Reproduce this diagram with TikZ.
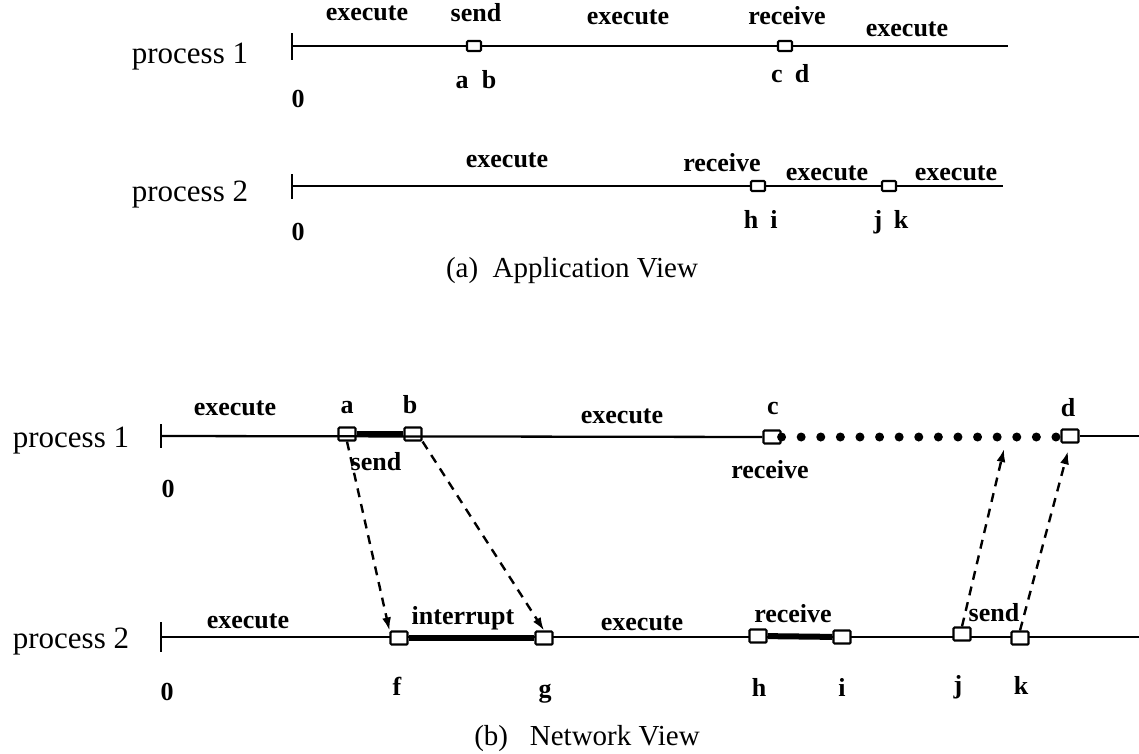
\documentclass[tikz,border=0pt]{standalone}
\usepackage{fontspec}
\setmainfont{Liberation Serif}
\usetikzlibrary{arrows.meta}
\begin{document}
\begin{tikzpicture}[x=1pt,y=-1pt,
    proc/.style={line width=2.3pt},
    busy/.style={line width=6pt},
    evt/.style={draw,fill=white,line width=2.1pt,minimum width=14pt,minimum height=10pt,inner sep=0pt,rounded corners=1pt},
    bigevt/.style={evt,minimum width=17pt,minimum height=13pt},
    lbl/.style={font=\fontsize{26}{28}\selectfont\bfseries,anchor=base,inner sep=0pt},
    plbl/.style={font=\fontsize{31}{34}\selectfont,anchor=base,inner sep=0pt},
    caplbl/.style={font=\fontsize{29}{32}\selectfont,anchor=base,inner sep=0pt},
    msg/.style={dash pattern=on 9pt off 7pt,line width=2.4pt,-{Latex[length=13pt,width=9pt]}},
    wait/.style={line width=9pt,line cap=round,dash pattern=on 0pt off 19.6pt}]
    \useasboundingbox (0,0) rectangle (1139,753);
    % (a) application view
    \node[plbl] (pa1) at (190,63) {process 1};
    \coordinate (a1s) at (292,46); \coordinate (a1e) at (1008,46);
    \draw[proc] (a1s) -- (a1e);
    \draw[proc] (292,33) -- (292,60);
    \node[evt] (ab) at (474,46) {};
    \node[evt] (cd) at (785,46) {};
    \node[lbl] (ex11) at (367,20) {execute};
    \node[lbl] (snd1) at (476,21) {send};
    \node[lbl] (ex12) at (628,24) {execute};
    \node[lbl] (rcv1) at (787,24) {receive};
    \node[lbl] (ex13) at (907,36) {execute};
    \node[lbl] (la) at (462,88) {a};
    \node[lbl] (lb) at (489,88) {b};
    \node[lbl] (lc) at (777,82) {c};
    \node[lbl] (ld) at (802,82) {d};
    \node[lbl] (za1) at (298,107) {0};

    \node[plbl] (pa2) at (190,201) {process 2};
    \coordinate (a2s) at (292,186); \coordinate (a2e) at (1003,186);
    \draw[proc] (a2s) -- (a2e);
    \draw[proc] (292,174) -- (292,199);
    \node[evt] (hi) at (758,186) {};
    \node[evt] (jk) at (889,186) {};
    \node[lbl] (ex21) at (507,167) {execute};
    \node[lbl] (rcv2) at (722,171) {receive};
    \node[lbl] (ex22) at (827,180) {execute};
    \node[lbl] (ex23) at (956,180) {execute};
    \node[lbl] (lh) at (751,228) {h};
    \node[lbl] (li) at (774,228) {i};
    \node[lbl] (lj) at (878,228) {j};
    \node[lbl] (lk) at (901,228) {k};
    \node[lbl] (za2) at (298,240) {0};
    \node[caplbl] (capa) at (572,277) {(a)\ \ Application View};

    % (b) network view
    \node[plbl] (pb1) at (71,447) {process 1};
    \coordinate (b1s) at (161,436); \coordinate (b1e) at (1139,436);
    \draw[proc] (161,424) -- (161,448);
    \node[bigevt] (na) at (347,434) {};
    \node[bigevt] (nb) at (413,434) {};
    \node[bigevt] (nc) at (772,437) {};
    \node[bigevt] (nd) at (1070,436) {};
    \draw[proc] (b1s) -- (nc);
    \draw[proc] (nd) -- (b1e);
    \draw[busy] (na) -- (nb);
    \draw[wait] (nc.east) -- (nd.west |- nc.east);
    \node[lbl] (ex31) at (235,415) {execute};
    \node[lbl] (ta) at (347,413) {a};
    \node[lbl] (tb) at (410,413) {b};
    \node[lbl] (ex32) at (622,423) {execute};
    \node[lbl] (tc) at (773,414) {c};
    \node[lbl] (td) at (1068,416) {d};
    \node[lbl] (snd3) at (376,470) {send};
    \node[lbl] (rcv3) at (770,478) {receive};
    \node[lbl] (zb1) at (168,497) {0};

    \node[plbl] (pb2) at (71,648) {process 2};
    \coordinate (b2s) at (161,637); \coordinate (b2e) at (1139,637);
    \draw[proc] (b2s) -- (b2e);
    \draw[proc] (161,622) -- (161,652);
    \node[bigevt] (nf) at (399,638) {};
    \node[bigevt] (ng) at (544,638) {};
    \node[bigevt] (nh) at (758,636) {};
    \node[bigevt] (ni) at (842,637) {};
    \node[bigevt] (nj) at (962,634) {};
    \node[bigevt] (nk) at (1020,638) {};
    \draw[busy] (nf) -- (ng);
    \draw[busy] (nh) -- (ni);
    \node[lbl] (ex41) at (248,628) {execute};
    \node[lbl] (intr) at (463,624) {interrupt};
    \node[lbl] (ex42) at (642,630) {execute};
    \node[lbl] (rcv4) at (793,622) {receive};
    \node[lbl] (snd4) at (994,621) {send};
    \node[lbl] (tf) at (397,695) {f};
    \node[lbl] (tg) at (545,697) {g};
    \node[lbl] (th) at (759,696) {h};
    \node[lbl] (ti) at (842,696) {i};
    \node[lbl] (tj) at (958,693) {j};
    \node[lbl] (tk) at (1021,694) {k};
    \node[lbl] (zb2) at (167,700) {0};
    \node[caplbl] (capb) at (587,745) {(b)\ \ \ Network View};

    % messages
    \coordinate (jtip) at (1004,449);
    \draw[msg] (na.south) -- (nf.north west);
    \draw[msg] (nb.south east) -- (ng.north);
    \draw[msg] (nj.north) -- (jtip);
    \draw[msg,shorten >=8pt] (nk.north) -- (nd.south);
\end{tikzpicture}
\end{document}
